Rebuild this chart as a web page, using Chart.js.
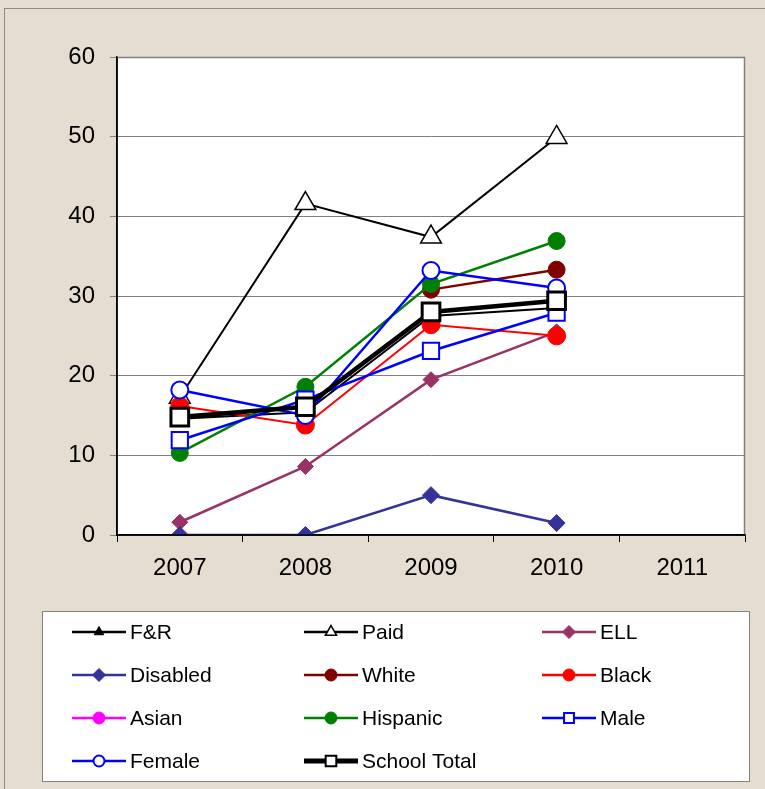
<!DOCTYPE html>
<html>
<head>
<meta charset="utf-8">
<script src="https://cdn.jsdelivr.net/npm/chart.js@4.4.1/dist/chart.umd.min.js"></script>
<style>
  html, body { margin: 0; padding: 0; background: #E5DDD0; }
  #wrap { width: 765px; height: 789px; position: relative; }
</style>
</head>
<body>
<div id="wrap"><canvas id="c" width="765" height="789"></canvas></div>
<script>
const categories = ['2007', '2008', '2009', '2010', '2011'];
const yTicks = [0, 10, 20, 30, 40, 50, 60];

const fr       = [14.6, 15.4, 27.5, 28.5, null];
const paid     = [17.3, 41.6, 37.4, 49.9, null];
const ell      = [1.6, 8.6, 19.5, 25.5, null];
const disabled = [0, 0, 5.0, 1.5, null];
const white    = [null, null, 30.8, 33.3, null];
const black    = [16.2, 13.8, 26.4, 25.0, null];
const asian    = [null, null, null, null, null];
const hispanic = [10.3, 18.6, 31.5, 36.9, null];
const male     = [11.9, 17.0, 23.1, 27.9, null];
const female   = [18.2, 15.0, 33.2, 31.0, null];
const schoolTotal = [14.8, 16.1, 28.0, 29.4, null];

const seriesNames = ['F&R', 'Paid', 'ELL', 'Disabled', 'White', 'Black', 'Asian', 'Hispanic', 'Male', 'Female', 'School Total'];
const seriesData = [fr, paid, ell, disabled, white, black, asian, hispanic, male, female, schoolTotal];

const styles = [
  {c:'#000000', w:2, ps:'triangle', r:6, fill:'#000000', bw:1, lr:5.5},
  {c:'#000000', w:2, ps:'triangle', r:12, fill:'#FFFFFF', bw:1.5, lr:6.5},
  {c:'#993366', w:2.5, ps:'rectRot', r:8, fill:'#993366', bw:1, lr:6.5},
  {c:'#333399', w:2.5, ps:'rectRot', r:8.5, fill:'#333399', bw:1, lr:6.5},
  {c:'#800000', w:2.5, ps:'circle', r:8.5, fill:'#800000', bw:1, lr:6},
  {c:'#FF0000', w:2, ps:'circle', r:9, fill:'#FF0000', bw:1, lr:6},
  {c:'#FF00FF', w:2.5, ps:'circle', r:8.5, fill:'#FF00FF', bw:1, lr:6},
  {c:'#008000', w:2.5, ps:'circle', r:8.5, fill:'#008000', bw:1, lr:6},
  {c:'#0000FF', w:2.5, ps:'rect', r:11.5, fill:'#FFFFFF', bw:2, lr:7},
  {c:'#0000FF', w:2.5, ps:'circle', r:8.5, fill:'#FFFFFF', bw:2, lr:5.5},
  {c:'#000000', w:4.5, ps:'rect', r:12.5, fill:'#FFFFFF', bw:3, lr:7.5}
];

const datasets = seriesNames.map((name, i) => ({
  label: name,
  data: seriesData[i],
  borderColor: styles[i].c,
  backgroundColor: styles[i].fill,
  borderWidth: styles[i].w,
  pointStyle: styles[i].ps,
  pointRadius: styles[i].r,
  pointBorderWidth: styles[i].bw,
  pointBorderColor: styles[i].c,
  pointBackgroundColor: styles[i].fill,
  tension: 0,
  fill: false,
  spanGaps: false,
  order: seriesNames.length - i
}));

const FONT = '"Liberation Sans", Arial, sans-serif';

const frame = {
  id: 'frame',
  beforeDraw(chart) {
    const ctx = chart.ctx, a = chart.chartArea;
    ctx.save();
    ctx.fillStyle = '#E5DDD0';
    ctx.fillRect(0, 0, chart.width, chart.height);
    ctx.strokeStyle = '#8C8C8C';
    ctx.lineWidth = 1;
    ctx.strokeRect(4.5, 8.5, 770, 800);
    ctx.fillStyle = '#FFFFFF';
    ctx.fillRect(a.left, a.top, a.right - a.left, a.bottom - a.top);
    ctx.restore();
  },
  afterDatasetsDraw(chart) {
    const ctx = chart.ctx, a = chart.chartArea;
    ctx.save();
    ctx.strokeStyle = '#808080';
    ctx.lineWidth = 1.5;
    ctx.beginPath();
    ctx.moveTo(a.left, a.top + 0.5);
    ctx.lineTo(a.right - 0.5, a.top + 0.5);
    ctx.lineTo(a.right - 0.5, a.bottom);
    ctx.stroke();
    ctx.strokeStyle = '#000000';
    ctx.lineWidth = 1.5;
    ctx.beginPath();
    ctx.moveTo(a.left, a.top);
    ctx.lineTo(a.left, a.bottom);
    ctx.lineTo(a.right, a.bottom);
    ctx.stroke();
    ctx.restore();
  },
  afterDraw(chart) {
    const ctx = chart.ctx;
    ctx.save();
    ctx.fillStyle = '#FFFFFF';
    ctx.fillRect(42, 611, 708, 171);
    ctx.strokeStyle = '#808080';
    ctx.lineWidth = 1;
    ctx.strokeRect(42.5, 611.5, 707, 170);
    const colX = [72, 304, 542];
    const rowY = [632, 675, 718, 761];
    ctx.font = '21px ' + FONT;
    ctx.textBaseline = 'middle';
    ctx.textAlign = 'left';
    seriesNames.forEach((name, i) => {
      const col = i % 3, row = Math.floor(i / 3);
      const x = colX[col], y = rowY[row];
      const s = styles[i];
      ctx.strokeStyle = s.c;
      ctx.lineWidth = Math.max(s.w, 2.5);
      if (i === 10) ctx.lineWidth = 5;
      ctx.beginPath();
      ctx.moveTo(x, y);
      ctx.lineTo(x + 54, y);
      ctx.stroke();
      ctx.fillStyle = s.fill;
      ctx.strokeStyle = s.c;
      ctx.lineWidth = Math.min(s.bw, 2);
      Chart.helpers.drawPoint(ctx, {pointStyle: s.ps, radius: s.lr, rotation: 0, borderWidth: ctx.lineWidth}, x + 27, y);
      ctx.fillStyle = '#000000';
      ctx.fillText(name, x + 58, y + 1);
    });
    ctx.restore();
  }
};

new Chart(document.getElementById('c'), {
  type: 'line',
  data: { labels: categories, datasets },
  options: {
    responsive: false,
    animation: false,
    events: [],
    layout: { padding: { left: 0, right: 20, top: 57, bottom: 0 } },
    plugins: { legend: { display: false }, tooltip: { enabled: false } },
    scales: {
      x: {
        offset: true,
        afterFit(s) { s.height = 254; },
        grid: { display: true, offset: true, drawOnChartArea: false, drawTicks: true, tickLength: 7, color: '#000000', lineWidth: 1 },
        border: { display: true, color: '#000000', width: 1.5 },
        ticks: { color: '#000000', font: { family: FONT, size: 24 }, padding: 12, maxRotation: 0 }
      },
      y: {
        min: 0, max: 60,
        afterFit(s) { s.width = 117; },
        afterBuildTicks(s) { s.ticks = yTicks.map(v => ({ value: v })); },
        grid: { display: true, drawOnChartArea: true, drawTicks: true, tickLength: 7, color: '#808080', lineWidth: 1 },
        border: { display: true, color: '#000000', width: 1.5 },
        ticks: { color: '#000000', font: { family: FONT, size: 24 }, padding: 15 }
      }
    }
  },
  plugins: [frame]
});
</script>
</body>
</html>
